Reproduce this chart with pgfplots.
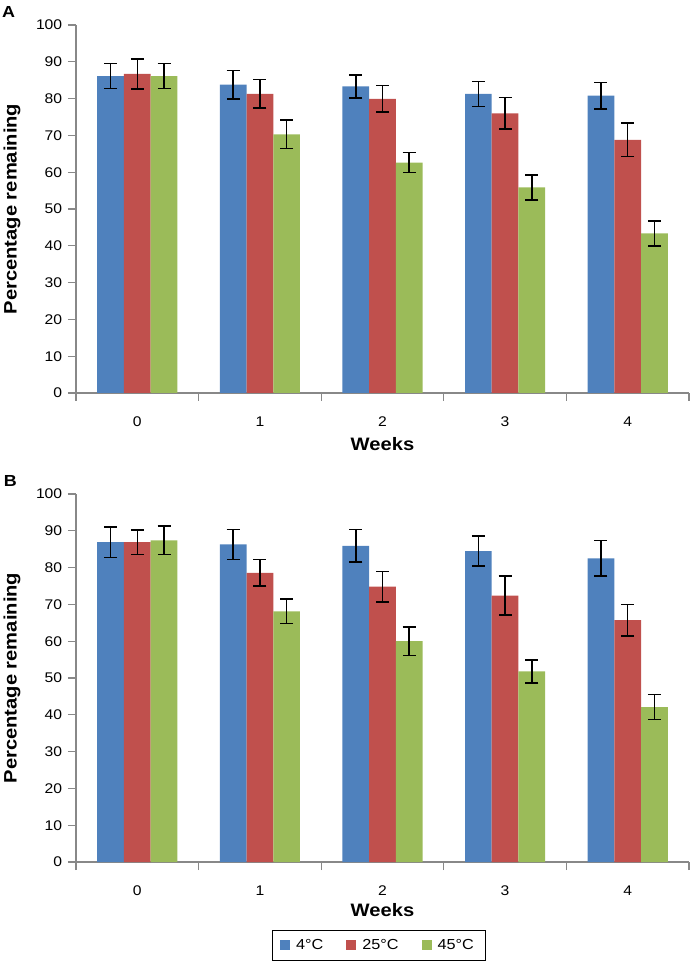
\documentclass[border=0pt]{standalone}
\usepackage{fontspec}
\setmainfont{Liberation Sans}[FakeStretch=1.12]
\usepackage{pgfplots}
\usepackage{pgfplotstable}
\pgfplotsset{compat=1.18}
\definecolor{cblue}{HTML}{4F81BD}
\definecolor{cred}{HTML}{C0504D}
\definecolor{cgreen}{HTML}{9BBB59}
\definecolor{axgray}{HTML}{888888}

\pgfplotstableread{
x b be r re g ge
0 86.1 3.4 86.7 4.1 86.1 3.4
1 83.8 3.9 81.3 3.9 70.3 3.9
2 83.3 3.1 79.9 3.6 62.6 2.7
3 81.3 3.4 76.0 4.3 55.9 3.4
4 80.8 3.6 68.8 4.6 43.4 3.4
}\dataA

\pgfplotstableread{
x b be r re g ge
0 86.9 4.2 86.9 3.3 87.4 3.9
1 86.3 4.1 78.6 3.6 68.1 3.3
2 85.9 4.4 74.8 4.1 60.0 3.9
3 84.5 4.1 72.4 5.3 51.8 3.1
4 82.5 4.8 65.7 4.3 42.1 3.4
}\dataB

\pgfplotsset{
  panel/.style={
    width=613pt, height=368pt, scale only axis,
    xmin=-0.5, xmax=4.5, ymin=0, ymax=100,
    ytick={0,10,...,100},
    xtick={0,...,4},
    minor xtick={-0.5,0.5,...,4.5},
    axis lines*=left,
    axis line style={axgray, line width=1.2pt},
    tick align=outside,
    major tick length=8pt, minor tick length=8pt,
    every tick/.style={axgray, line width=1.2pt},
    major x tick style={draw=none},
    /pgf/number format/assume math mode=true,
    tick label style={font=\fontsize{14}{16}\selectfont, text=black},
    xticklabel style={yshift=-12pt},
    yticklabel style={xshift=-2.3pt},
    label style={font=\bfseries\fontsize{18}{20}\selectfont},
    ylabel={Percentage remaining},
    xlabel={Weeks},
    ylabel style={at={(axis description cs:-0.1044,0.5)}, anchor=center},
    ybar=0pt, bar width=0.218,
    clip=false,
    legend image code/.code={\fill[##1] (0pt,-5pt) rectangle (10pt,5pt);},
  },
  errb/.style={error bars/.cd, y dir=both, y explicit,
    error bar style={black, line width=1.5pt},
    error mark options={black, mark size=6.5pt, rotate=90, line width=1.5pt}},
}

\begin{document}
\begin{tikzpicture}
\useasboundingbox (-76pt,-100pt) rectangle (614pt,862pt);
% Panel A
\begin{axis}[panel, at={(0pt,469pt)}, anchor=south west,
  xlabel style={at={(axis description cs:0.5,0)}, yshift=-51.5pt, anchor=center}]
\addplot[fill=cblue, draw=none, bar shift=-0.218, errb] table[x=x, y=b, y error=be]{\dataA};
\addplot[fill=cred, draw=none, bar shift=0, errb] table[x=x, y=r, y error=re]{\dataA};
\addplot[fill=cgreen, draw=none, bar shift=0.218, errb] table[x=x, y=g, y error=ge]{\dataA};
\node[font=\bfseries\fontsize{16}{16}\selectfont] at (rel axis cs:-0.110,1.034) {A};
\end{axis}
% Panel B
\begin{axis}[panel, at={(0pt,0pt)}, anchor=south west,
  xlabel style={at={(axis description cs:0.5,0)}, yshift=-48pt, anchor=center},
  legend style={at={(0.4935,-0.1848)}, anchor=north, draw=black, line width=0.8pt,
    legend columns=3, font=\fontsize{14.5}{16}\selectfont,
    inner xsep=8pt, inner ysep=6pt,
    nodes={inner sep=3pt},
    /tikz/every odd column/.append style={column sep=3pt},
    /tikz/every even column/.append style={column sep=20pt}},
  legend entries={4°C, 25°C, 45°C}]
\addplot[fill=cblue, draw=none, bar shift=-0.218, errb] table[x=x, y=b, y error=be]{\dataB};
\addplot[fill=cred, draw=none, bar shift=0, errb] table[x=x, y=r, y error=re]{\dataB};
\addplot[fill=cgreen, draw=none, bar shift=0.218, errb] table[x=x, y=g, y error=ge]{\dataB};
\node[font=\bfseries\fontsize{16}{16}\selectfont] at (rel axis cs:-0.107,1.035) {B};
\end{axis}
\end{tikzpicture}
\end{document}
